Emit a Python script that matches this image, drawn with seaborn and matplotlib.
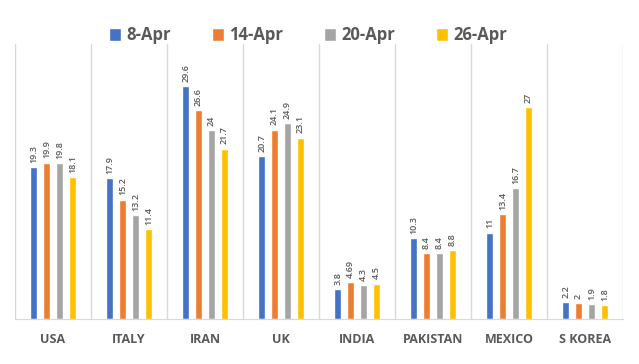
import numpy as np
import pandas as pd
import matplotlib
matplotlib.use('Agg')
import matplotlib.pyplot as plt
import seaborn as sns

# Данные
countries = ['USA', 'ITALY', 'IRAN', 'UK', 'INDIA', 'PAKISTAN', 'MEXICO', 'S KOREA']
dates = ['8-Apr', '14-Apr', '20-Apr', '26-Apr']
apr_08 = [19.3, 17.9, 29.6, 20.7, 3.8, 10.3, 11, 2.2]
apr_14 = [19.9, 15.2, 26.6, 24.1, 4.69, 8.4, 13.4, 2]
apr_20 = [19.8, 13.2, 24, 24.9, 4.3, 8.4, 16.7, 1.9]
apr_26 = [18.1, 11.4, 21.7, 23.1, 4.5, 8.8, 27, 1.8]
label_text = [
    ['19.3', '17.9', '29.6', '20.7', '3.8', '10.3', '11', '2.2'],
    ['19.9', '15.2', '26.6', '24.1', '4.69', '8.4', '13.4', '2'],
    ['19.8', '13.2', '24', '24.9', '4.3', '8.4', '16.7', '1.9'],
    ['18.1', '11.4', '21.7', '23.1', '4.5', '8.8', '27', '1.8'],
]

colors = ['#4472C4', '#ED7D31', '#A5A5A5', '#FFC000']
text_gray = '#595959'
line_gray = '#D9D9D9'

sns.set_style('white')
plt.rcParams['font.family'] = ['Open Sans', 'DejaVu Sans']

df = pd.DataFrame({'country': countries * 4,
                   'date': np.repeat(dates, len(countries)),
                   'value': apr_08 + apr_14 + apr_20 + apr_26})

fig = plt.figure(figsize=(6.39, 3.64), dpi=100)
ax = fig.add_axes([15 / 639, 45 / 364, 608 / 639, 275 / 364])

sns.barplot(data=df, x='country', y='value', hue='date', palette=colors,
            saturation=1, width=0.68, gap=0.45, ax=ax, legend=True)

ax.set_ylim(0, 35)
ax.set_xlim(-0.5, len(countries) - 0.5)
ax.set_yticks([])
ax.set_xlabel('')
ax.set_ylabel('')

# Подписи значений над столбцами
for cont, labels in zip(ax.containers, label_text):
    ax.bar_label(cont, labels=labels, rotation=90, padding=3,
                 fontsize=6.5, color=text_gray, fontweight='semibold')

# Вертикальные разделители между категориями
for x in np.arange(-0.5, len(countries), 1.0):
    ax.axvline(x, color=line_gray, lw=1, zorder=0)

for side in ['top', 'right', 'left']:
    ax.spines[side].set_visible(False)
ax.spines['bottom'].set_color(line_gray)
ax.tick_params(axis='x', length=0, pad=10)
for lbl in ax.get_xticklabels():
    lbl.set_fontsize(9)
    lbl.set_fontweight('bold')
    lbl.set_color(text_gray)

handles, lbls = ax.get_legend_handles_labels()
leg = ax.legend(handles, lbls, loc='center', bbox_to_anchor=(0.482, 1.033),
                ncol=4, frameon=False, handlelength=0.7, handleheight=0.85,
                handletextpad=0.3, columnspacing=2.5,
                prop={'size': 12, 'weight': 'bold'})
for t in leg.get_texts():
    t.set_color(text_gray)

fig.savefig('out.png', dpi=100)
